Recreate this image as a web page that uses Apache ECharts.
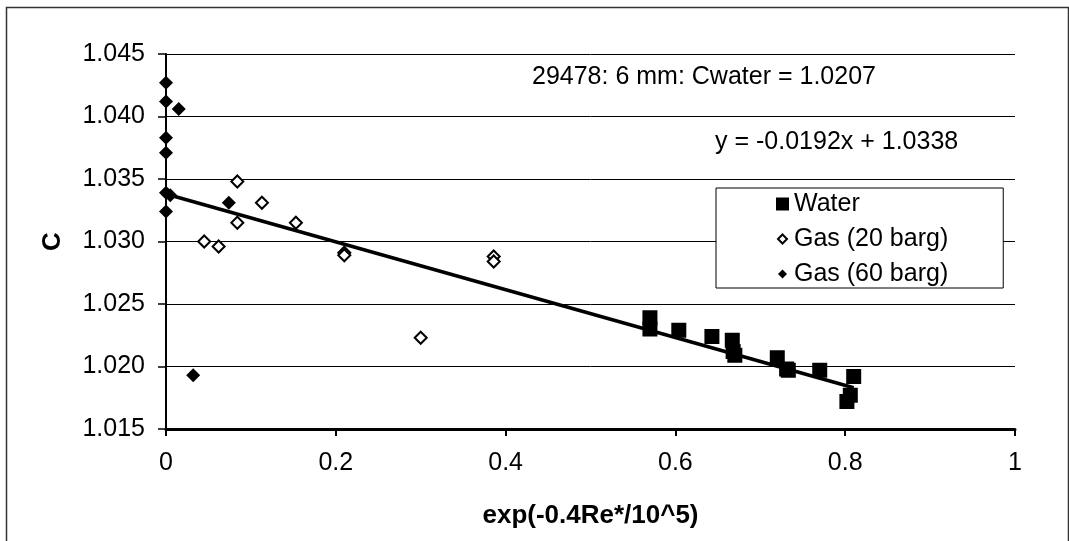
<!DOCTYPE html>
<html><head><meta charset="utf-8">
<script src="https://cdn.jsdelivr.net/npm/echarts@6/dist/echarts.min.js"></script>
<style>html,body{margin:0;padding:0;background:#fff}#c{width:1069px;height:541px}</style>
</head><body><div id="c"></div>
<script>
// ---- data ----
const water = [[0.570,1.0239],[0.570,1.0230],[0.604,1.0229],[0.643,1.0224],[0.667,1.0221],[0.668,1.0212],[0.670,1.0209],[0.720,1.0207],[0.731,1.0198],[0.733,1.0197],[0.770,1.0197],[0.802,1.0172],[0.806,1.0177],[0.810,1.0192]];
const gas20 = [[0.084,1.0348],[0.113,1.0331],[0.084,1.0315],[0.153,1.0315],[0.045,1.0300],[0.062,1.0296],[0.210,1.0291],[0.210,1.0289],[0.386,1.0288],[0.386,1.0284],[0.300,1.0223]];
const gas60 = [[0,1.0427],[0,1.0412],[0.015,1.0406],[0,1.0383],[0,1.0371],[0,1.0339],[0.005,1.0337],[0,1.0324],[0.074,1.0331],[0.032,1.0193]];
const trend = [[0,1.0338],[0.81,1.0183]];
const seriesNames = ['Water','Gas (20 barg)','Gas (60 barg)'];
const xTitle = 'exp(-0.4Re*/10^5)';
const yTitle = 'C';
const note1 = '29478: 6 mm: Cwater = 1.0207';
const note2 = 'y = -0.0192x + 1.0338';
const yDecimals = 3;

const FF = '"Liberation Sans", Arial, sans-serif';
const diamondIcon = 'path://M0,0M13,13M6.5,2L11,6.5L6.5,11L2,6.5Z';

const chart = echarts.init(document.getElementById('c'), null, {renderer:'canvas'});
chart.setOption({
  animation:false,
  backgroundColor:'#fff',
  grid:{left:166, top:54, right:54, bottom:112, containLabel:false},
  xAxis:{type:'value', min:0, max:1, interval:0.2,
    name:xTitle, nameLocation:'middle', nameGap:74,
    nameTextStyle:{fontFamily:FF, fontSize:26, fontWeight:'bold', color:'#000'},
    axisLine:{show:true, onZero:false, lineStyle:{color:'#000', width:3}},
    axisTick:{show:true, length:7, lineStyle:{color:'#000', width:2}},
    axisLabel:{fontFamily:FF, fontSize:25, color:'#000', margin:22},
    splitLine:{show:false}},
  yAxis:{type:'value', min:1.015, max:1.045, interval:0.005,
    name:yTitle, nameLocation:'middle', nameGap:100, nameRotate:90,
    nameTextStyle:{fontFamily:FF, fontSize:26, fontWeight:'bold', color:'#000'},
    axisLine:{show:true, onZero:false, lineStyle:{color:'#000', width:2}},
    axisTick:{show:true, length:8, lineStyle:{color:'#000', width:1.5}},
    axisLabel:{fontFamily:FF, fontSize:25, color:'#000', margin:21, formatter:v=>v.toFixed(yDecimals)},
    splitLine:{show:true, lineStyle:{color:'#000', width:1}}},
  legend:{orient:'vertical', left:716, top:188, padding:[3,55,1,59], itemGap:9,
    itemWidth:13, itemHeight:13, borderColor:'#000', borderWidth:1, backgroundColor:'#fff',
    textStyle:{fontFamily:FF, fontSize:25, color:'#000', lineHeight:26},
    data:[{name:seriesNames[0], icon:'rect'},
          {name:seriesNames[1], icon:diamondIcon},
          {name:seriesNames[2], icon:diamondIcon}]},
  graphic:[
    {type:'rect', left:4, top:5, z:-10, silent:true, shape:{width:1062, height:560}, style:{fill:'none', stroke:'#333', lineWidth:1.5}},
    {type:'text', left:532, top:65, style:{text:note1, font:'25px '+FF, fill:'#000'}},
    {type:'text', left:715, top:130, style:{text:note2, font:'25px '+FF, fill:'#000'}}
  ],
  series:[
    {type:'line', data:trend, symbol:'none', z:1, silent:true, lineStyle:{color:'#000', width:3.5}},
    {name:seriesNames[0], type:'scatter', data:water, symbol:'rect', symbolSize:15, z:3, itemStyle:{color:'#000', opacity:1}},
    {name:seriesNames[1], type:'scatter', data:gas20, symbol:'diamond', symbolSize:12, z:3, itemStyle:{color:'#fff', borderColor:'#000', borderWidth:2, opacity:1}},
    {name:seriesNames[2], type:'scatter', data:gas60, symbol:'diamond', symbolSize:14, z:4, itemStyle:{color:'#000', opacity:1}}
  ]
});
</script></body></html>
